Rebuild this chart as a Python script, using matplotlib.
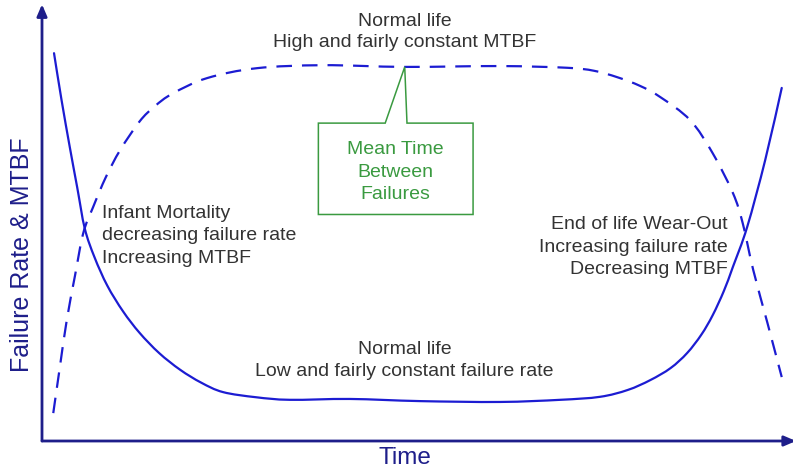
import matplotlib
matplotlib.use("Agg")
import matplotlib.pyplot as plt
import numpy as np
from matplotlib.patches import Polygon, PathPatch
from matplotlib.path import Path

plt.rcParams['font.family'] = ['Liberation Sans', 'DejaVu Sans']

# failure rate (solid) - time vs value, 0..100 scale
rate_time = [1.6, 2.6, 3.7, 4.7, 5.7, 7.0, 8.7, 10.8, 13.0, 15.6, 18.4, 21.2, 24.1, 28.5,
             33.0, 41.0, 50.3, 61.0, 69.0, 74.3, 78.0, 81.0, 83.7, 85.9, 87.8, 89.3,
             90.8, 92.0, 93.9, 96.3, 98.5]
rate_value = [90.4, 79.5, 68.5, 59.0, 49.5, 42.8, 36.2, 30.2, 25.2, 20.5, 16.6, 13.6, 11.4, 10.2,
              9.6, 9.8, 9.3, 9.1, 9.6, 10.3, 11.9, 14.2, 17.0, 20.5, 24.8, 29.3,
              35.0, 40.6, 49.9, 65.5, 82.3]

# MTBF (dashed)
mtbf_time = [1.5, 2.4, 3.3, 4.4, 5.5, 6.8, 8.5, 10.4, 13.0, 15.0, 17.4, 22.0, 28.6, 37.4,
             48.3, 61.0, 69.9, 73.5, 76.6, 79.6, 82.3, 86.3, 89.3, 92.0, 93.3, 94.7,
             96.6, 98.5]
mtbf_value = [6.5, 17.5, 28.2, 38.6, 48.5, 54.5, 61.5, 67.8, 74.5, 78.0, 81.0, 84.6, 86.9, 87.6,
              87.2, 87.4, 87.0, 86.3, 84.8, 82.8, 80.2, 74.8, 67.1, 57.8, 50.8, 39.9,
              27.5, 14.9]

curve_color = '#1c1cd2'
axis_color = '#1e1e8a'
text_color = '#333333'
green = '#3a9a40'


def smooth_path(xs, ys):
    # catmull-rom through the points, drawn as bezier segments
    pts = np.column_stack([xs, ys])
    verts = [pts[0]]
    codes = [Path.MOVETO]
    n = len(pts)
    for i in range(n - 1):
        p0 = pts[max(i - 1, 0)]
        p1 = pts[i]
        p2 = pts[i + 1]
        p3 = pts[min(i + 2, n - 1)]
        verts += [p1 + (p2 - p0) / 6, p2 - (p3 - p1) / 6, p2]
        codes += [Path.CURVE4] * 3
    return Path(verts, codes)


fig = plt.figure(figsize=(7.93, 4.72), dpi=100)
ax = fig.add_axes([42 / 793, 31 / 472, 751 / 793, 429 / 472])
ax.set_xlim(0, 100)
ax.set_ylim(0, 100)
ax.axis('off')

ax.add_patch(PathPatch(smooth_path(rate_time, rate_value), fill=False, edgecolor=curve_color,
                       lw=1.6, capstyle='round'))
ax.add_patch(PathPatch(smooth_path(mtbf_time, mtbf_value), fill=False, edgecolor=curve_color,
                       lw=1.6, linestyle=(0, (7, 4.5))))

# axes with arrows
ax.annotate('', xy=(0, 101.8), xytext=(0, 0), annotation_clip=False,
            arrowprops=dict(arrowstyle='-|>,head_length=0.7,head_width=0.3', color=axis_color,
                            lw=2, shrinkA=0, shrinkB=0))
ax.annotate('', xy=(100.4, 0), xytext=(0, 0), annotation_clip=False,
            arrowprops=dict(arrowstyle='-|>,head_length=0.7,head_width=0.3', color=axis_color,
                            lw=2, shrinkA=0, shrinkB=0))

ax.text(48.3, 95.3, "Normal life\nHigh and fairly constant MTBF", ha='center', va='center',
        fontsize=14, color=text_color, linespacing=1.35)
ax.text(8.0, 47.8, "Infant Mortality\ndecreasing failure rate\nIncreasing MTBF", ha='left',
        va='center', fontsize=14, color=text_color, linespacing=1.44)
ax.text(91.3, 45.2, "End of life Wear-Out\nIncreasing failure rate\nDecreasing MTBF", ha='right',
        va='center', fontsize=14, color=text_color, linespacing=1.44)
ax.text(48.3, 18.8, "Normal life\nLow and fairly constant failure rate", ha='center',
        va='center', fontsize=14, color=text_color, linespacing=1.38)

# callout for MTBF
callout = Polygon([(36.8, 74.1), (45.7, 74.1), (48.3, 87.2), (48.6, 74.1), (57.4, 74.1),
                   (57.4, 52.8), (36.8, 52.8)], closed=True, facecolor='white',
                  edgecolor=green, lw=1.1, zorder=3)
ax.add_patch(callout)
ax.text(47.0, 62.7, "Mean Time\nBetween\nFailures", ha='center', va='center', fontsize=14,
        color=green, linespacing=1.41, zorder=4)

fig.text(405 / 793, 1 - 458 / 472, "Time", ha='center', va='center', fontsize=17.5,
         color=axis_color)
fig.text(22 / 793, 1 - 255 / 472, "Failure Rate & MTBF", ha='center', va='center',
         fontsize=18, color=axis_color, rotation=90)

fig.savefig("out.png", dpi=100)
